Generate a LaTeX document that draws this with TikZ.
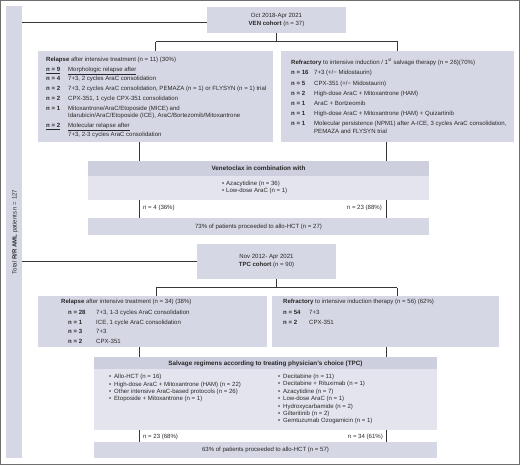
\documentclass[tikz,border=0pt]{standalone}
\usepackage{fontspec}
\setmainfont{Liberation Sans}
\definecolor{boxc}{RGB}{214,215,228}
\definecolor{headc}{RGB}{205,206,222}
\definecolor{bodyc}{RGB}{228,228,238}
\definecolor{txtc}{RGB}{40,40,40}
\definecolor{linec}{RGB}{55,55,55}
\definecolor{framec}{RGB}{110,110,110}
\newcommand\mkbox[6]{\node[box,fill=#2,minimum width=#5pt-#3pt,minimum height=#6pt-#4pt] (#1) at (#3,#4) {};}
\begin{document}
\begin{tikzpicture}[x=1pt,y=-1pt,
  font=\fontsize{6.05}{7}\selectfont,
  box/.style={draw=none,inner sep=0pt,outer sep=0pt,anchor=north west},
  txt/.style={anchor=base west,inner sep=0pt,text=txtc},
  rtxt/.style={anchor=base east,inner sep=0pt,text=txtc},
  ctxt/.style={anchor=base,inner sep=0pt,text=txtc},
  hdr/.style={anchor=base,inner sep=0pt,text=txtc,font=\fontsize{6.3}{7}\selectfont\bfseries},
  conn/.style={draw=linec,line width=1pt}]
\useasboundingbox (0,0) rectangle (520,465);
\draw[framec,line width=1pt] (0.5,0.5) rectangle (519.5,464.5);
% boxes
\mkbox{sb}{boxc}{6}{6}{22}{458}
\mkbox{ven}{boxc}{207}{7}{346}{33}
\mkbox{relv}{boxc}{38}{51}{273}{142}
\mkbox{refv}{boxc}{281}{51}{514}{142}
\mkbox{venh}{headc}{88}{161}{429}{176}
\mkbox{venb}{bodyc}{88}{176}{429}{200}
\mkbox{venf}{boxc}{88}{218}{429}{235}
\mkbox{tpc}{boxc}{197}{244}{336}{279}
\mkbox{relt}{boxc}{38}{296}{267}{347}
\mkbox{reft}{boxc}{272}{296}{499}{347}
\mkbox{salh}{headc}{94}{357}{437}{369}
\mkbox{salb}{bodyc}{94}{369}{437}{430}
\mkbox{salf}{boxc}{94}{442}{437}{458}
% coordinates
\coordinate (L) at (139,0);
\coordinate (R) at (386.5,0);
\coordinate (A) at (156,0);
\coordinate (B) at (397,0);
\coordinate (M) at (276,0);
% connectors VEN
\draw[conn] ([yshift=-2.5pt]ven.west) -- ([yshift=-2.5pt]ven.west -| sb.east);
\draw[conn] (ven.south) -- ++(0,9) coordinate (vj);
\draw[conn] (vj -| relv.north) -- (vj -| refv.north);
\draw[conn] (vj -| relv.north) -- (relv.north);
\draw[conn] (vj -| refv.north) -- (refv.north);
\draw[conn] (L |- relv.south) -- (L |- venh.north);
\draw[conn] (R |- refv.south) -- (R |- venh.north);
\draw[conn] (L |- venb.south) -- (L |- venf.north);
\draw[conn] (R |- venb.south) -- (R |- venf.north);
% connectors TPC
\draw[conn] (tpc.west) -- (tpc.west -| sb.east);
\draw[conn] (M |- tpc.south) -- ++(0,9) coordinate (tj);
\draw[conn] (tj -| A) -- (tj -| B);
\draw[conn] (tj -| A) -- (A |- relt.north);
\draw[conn] (tj -| B) -- (B |- reft.north);
\draw[conn] (L |- relt.south) -- (L |- salh.north);
\draw[conn] (R |- reft.south) -- (R |- salh.north);
\draw[conn] (L |- salb.south) -- (L |- salf.north);
\draw[conn] (R |- salb.south) -- (R |- salf.north);
% sidebar text
\node[inner sep=0pt,text=txtc,rotate=90] (sbt) at (15,232) {Total \textbf{R/R AML} patients n = 127};
% VEN header
\node[ctxt] (ven1) at (276.5,18) {Oct 2018-Apr 2021};
\node[ctxt] (ven2) at (276.5,26) {\textbf{VEN cohort} (n = 37)};
% VEN relapse
\node[txt] (a0) at (46,62) {\textbf{Relapse} after intensive treatment (n = 11) (30\%)};
\node[txt] (a1l) at (46,71.3) {\underline{\textbf{n = 9}}};
\node[txt] (a1) at (68,71.3) {\underline{Morphologic relapse after}};
\node[txt] (a2l) at (46,81) {\textbf{n = 4}};
\node[txt] (a2) at (68,81) {7+3, 2 cycles AraC consolidation};
\node[txt] (a3l) at (46,90.7) {\textbf{n = 2}};
\node[txt] (a3) at (68,90.7) {7+3, 2 cycles AraC consolidation, PEMAZA (n = 1) or FLYSYN (n = 1) trial};
\node[txt] (a4l) at (46,100.3) {\textbf{n = 2}};
\node[txt] (a4) at (68,100.3) {CPX-351, 1 cycle CPX-351 consolidation};
\node[txt] (a5l) at (46,110.3) {\textbf{n = 1}};
\node[txt] (a5) at (68,110.3) {Mitoxantrone/AraC/Etoposide (MICE) and};
\node[txt] (a5b) at (68,118) {Idarubicin/AraC/Etoposide (ICE), AraC/Bortezomib/Mitoxantrone};
\node[txt] (a6l) at (46,128) {\underline{\textbf{n = 2}}};
\node[txt] (a6) at (68,128) {\underline{Molecular relapse after}};
\node[txt] (a6b) at (68,136.3) {7+3, 2-3 cycles AraC consolidation};
% VEN refractory
\node[txt] (b0) at (291,64.5) {\textbf{Refractory} to intensive induction / 1\textsuperscript{st} salvage therapy (n = 26)(70\%)};
\node[txt] (b1l) at (291,75) {\textbf{n = 16}};
\node[txt] (b1) at (314,75) {7+3 (+/− Midostaurin)};
\node[txt] (b2l) at (291,85.3) {\textbf{n = 5}};
\node[txt] (b2) at (314,85.3) {CPX-351 (+/− Midostaurin)};
\node[txt] (b3l) at (291,95.6) {\textbf{n = 2}};
\node[txt] (b3) at (314,95.6) {High-dose AraC + Mitoxantrone (HAM)};
\node[txt] (b4l) at (291,105.8) {\textbf{n = 1}};
\node[txt] (b4) at (314,105.8) {AraC + Bortzeomib};
\node[txt] (b5l) at (291,116) {\textbf{n = 1}};
\node[txt] (b5) at (314,116) {High-dose AraC + Mitoxantrone (HAM) + Quizartinib};
\node[txt] (b6l) at (291,126) {\textbf{n = 1}};
\node[txt] (b6) at (314,126) {Molecular persistence (NPM1) after A-ICE, 3 cycles AraC consolidation,};
\node[txt] (b6b) at (314,134) {PEMAZA and FLYSYN trial};
% Venetoclax
\node[hdr] (vh) at (258.5,170.5) {Venetoclax in combination with};
\node[txt] (vb1d) at (222,186) {•};
\node[txt] (vb1) at (226,186) {Azacytidine (n = 36)};
\node[txt] (vb2d) at (222,193) {•};
\node[txt] (vb2) at (226,193) {Low-dose AraC (n = 1)};
\node[txt] (vl1) at (143,210) {n = 4 (36\%)};
\node[rtxt] (vl2) at (382,210) {n = 23 (88\%)};
\node[ctxt] (vf) at (258.5,229) {73\% of patients proceeded to allo-HCT (n = 27)};
% TPC header
\node[ctxt] (tpc1) at (266.5,259) {Nov 2012- Apr 2021};
\node[ctxt] (tpc2) at (266.5,267) {\textbf{TPC cohort} (n = 90)};
% TPC relapse
\node[txt] (c0) at (61,303.7) {\textbf{Relapse} after intensive treatment (n = 34) (38\%)};
\node[txt] (c1l) at (68,314.3) {\textbf{n = 28}};
\node[txt] (c1) at (96,314.3) {7+3, 1-3 cycles AraC consolidation};
\node[txt] (c2l) at (68,324.3) {\textbf{n = 1}};
\node[txt] (c2) at (96,324.3) {ICE, 1 cycle AraC consolidation};
\node[txt] (c3l) at (68,333.7) {\textbf{n = 3}};
\node[txt] (c3) at (96,333.7) {7+3};
\node[txt] (c4l) at (68,343.7) {\textbf{n = 2}};
\node[txt] (c4) at (96,343.7) {CPX-351};
% TPC refractory
\node[txt] (d0) at (283,303.7) {\textbf{Refractory} to intensive induction therapy (n = 56) (62\%)};
\node[txt] (d1l) at (283,314.3) {\textbf{n = 54}};
\node[txt] (d1) at (309,314.3) {7+3};
\node[txt] (d2l) at (283,324.3) {\textbf{n = 2}};
\node[txt] (d2) at (309,324.3) {CPX-351};
% Salvage
\node[hdr] (sh) at (265.5,365.3) {Salvage regimens according to treating physician's choice (TPC)};
\node[txt] (e1d) at (109,379) {•};
\node[txt] (e1) at (114,379) {Allo-HCT (n = 16)};
\node[txt] (e2d) at (109,386) {•};
\node[txt] (e2) at (114,386) {High-dose AraC + Mitoxantrone (HAM) (n = 22)};
\node[txt] (e3d) at (109,393.3) {•};
\node[txt] (e3) at (114,393.3) {Other intensive AraC-based protocols (n = 26)};
\node[txt] (e4d) at (109,400.7) {•};
\node[txt] (e4) at (114,400.7) {Etoposide + Mitoxantrone (n = 1)};
\node[txt] (f1d) at (278,379) {•};
\node[txt] (f1) at (283,379) {Decitabine (n = 11)};
\node[txt] (f2d) at (278,385.5) {•};
\node[txt] (f2) at (283,385.5) {Decitabine + Rituximab (n = 1)};
\node[txt] (f3d) at (278,393) {•};
\node[txt] (f3) at (283,393) {Azacytidine (n = 7)};
\node[txt] (f4d) at (278,400) {•};
\node[txt] (f4) at (283,400) {Low-dose AraC (n = 1)};
\node[txt] (f5d) at (278,408) {•};
\node[txt] (f5) at (283,408) {Hydroxycarbamide (n = 2)};
\node[txt] (f6d) at (278,415) {•};
\node[txt] (f6) at (283,415) {Gilteritinib (n = 2)};
\node[txt] (f7d) at (278,422) {•};
\node[txt] (f7) at (283,422) {Gemtuzumab Ozogamicin (n = 1)};
\node[txt] (sl1) at (143,438) {n = 23 (68\%)};
\node[rtxt] (sl2) at (383,438) {n = 34 (61\%)};
\node[ctxt] (sf) at (265.5,451.5) {63\% of patients proceeded to allo-HCT (n = 57)};
\end{tikzpicture}
\end{document}
